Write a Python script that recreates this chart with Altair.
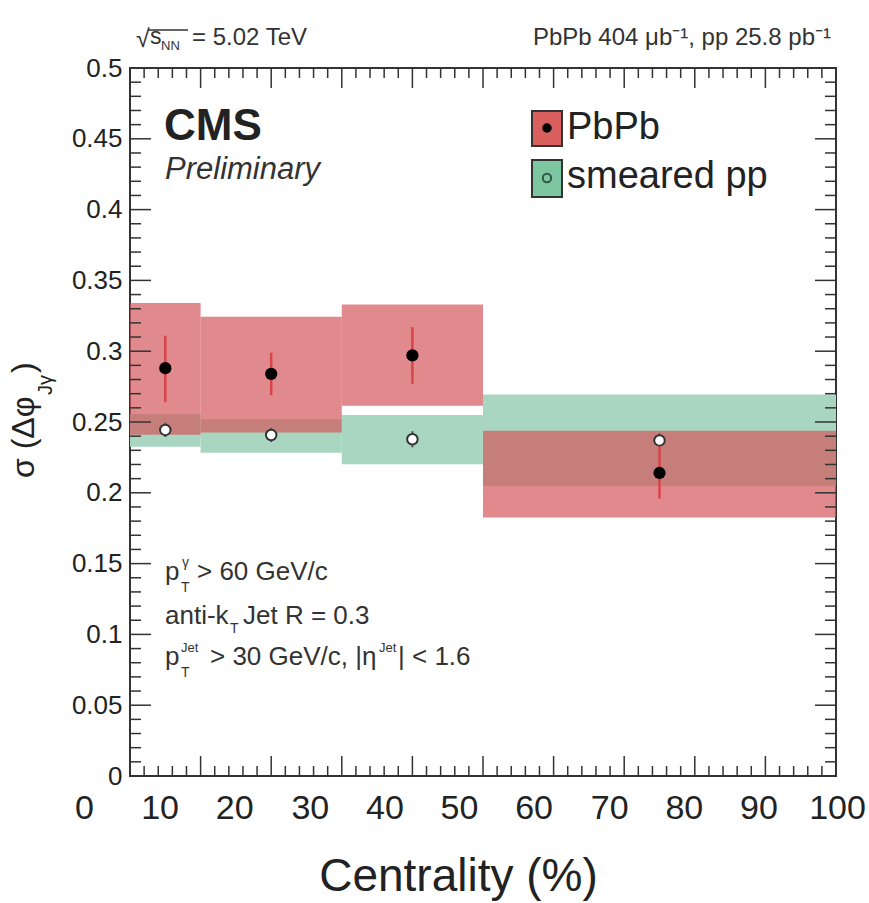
import altair as alt
import pandas as pd

# ---------------- data ----------------
cent_lo = [0, 10, 30, 50]
cent_hi = [10, 30, 50, 100]
cent_mid = [5, 20, 40, 75]

pbpb = [0.288, 0.284, 0.297, 0.214]
pbpb_stat_lo = [0.264, 0.269, 0.277, 0.196]
pbpb_stat_hi = [0.311, 0.299, 0.317, 0.233]
pbpb_sys_lo = [0.241, 0.2425, 0.2615, 0.1826]
pbpb_sys_hi = [0.334, 0.3244, 0.333, 0.2439]

pp = [0.2444, 0.2408, 0.2378, 0.2370]
pp_stat_lo = [0.2394, 0.2358, 0.2321, 0.2320]
pp_stat_hi = [0.2494, 0.2458, 0.2435, 0.2420]
pp_sys_lo = [0.2325, 0.2283, 0.2201, 0.2048]
pp_sys_hi = [0.2556, 0.2519, 0.2549, 0.2695]

# axis ticks
x_major = [0, 10, 20, 30, 40, 50, 60, 70, 80, 90, 100]
x_minor = [2, 4, 6, 8, 12, 14, 16, 18, 22, 24, 26, 28, 32, 34, 36, 38, 42, 44, 46, 48,
           52, 54, 56, 58, 62, 64, 66, 68, 72, 74, 76, 78, 82, 84, 86, 88, 92, 94, 96, 98]
y_major = [0, 0.05, 0.1, 0.15, 0.2, 0.25, 0.3, 0.35, 0.4, 0.45, 0.5]
y_minor = [0.01, 0.02, 0.03, 0.04, 0.06, 0.07, 0.08, 0.09, 0.11, 0.12, 0.13, 0.14,
           0.16, 0.17, 0.18, 0.19, 0.21, 0.22, 0.23, 0.24, 0.26, 0.27, 0.28, 0.29,
           0.31, 0.32, 0.33, 0.34, 0.36, 0.37, 0.38, 0.39, 0.41, 0.42, 0.43, 0.44,
           0.46, 0.47, 0.48, 0.49]
# label shifts seen in the reference (labels sit left of their ticks)
x_label_shift = [-46, -41, -37, -32, -28, -24, -20, -15, -11, -7, 1]

# ---------------- style ----------------
FONT = "Liberation Sans"
INK = "#222222"
TICK = "#333333"
RED_FILL = "#D3585C"
GREEN_FILL = "#A9D6C0"
RED_ERR = "#D9444B"
W, H = 706, 708
L0, T0 = 130, 68  # plot origin on the page

df = pd.DataFrame({
    "lo": cent_lo, "hi": cent_hi, "mid": cent_mid,
    "pbpb": pbpb, "pbpb_stat_lo": pbpb_stat_lo, "pbpb_stat_hi": pbpb_stat_hi,
    "pbpb_sys_lo": pbpb_sys_lo, "pbpb_sys_hi": pbpb_sys_hi,
    "pp": pp, "pp_stat_lo": pp_stat_lo, "pp_stat_hi": pp_stat_hi,
    "pp_sys_lo": pp_sys_lo, "pp_sys_hi": pp_sys_hi,
})

xs = alt.Scale(domain=[0, 100], nice=False, zero=False)
ys = alt.Scale(domain=[0, 0.5], nice=False, zero=False)

offset_cond = {
    "condition": [{"test": f"datum.value == {v}", "value": s}
                  for v, s in zip(x_major, x_label_shift)],
    "value": 0,
}

x_axis = alt.Axis(values=x_major, format="d", ticks=False, tickSize=0, domain=False,
                  grid=False, labelFont=FONT, labelFontSize=34, labelColor=INK,
                  labelPadding=15, labelFlush=False, labelOverlap=False,
                  labelOffset=offset_cond,
                  title="Centrality (%)", titleFont=FONT, titleFontSize=46,
                  titleFontWeight="normal", titleColor=INK, titleX=328, titleY=114,
                  titleBaseline="alphabetic")
y_axis = alt.Axis(values=y_major, format=".2~f", ticks=False, tickSize=0, domain=False,
                  grid=False, labelFont=FONT, labelFontSize=26, labelColor=INK,
                  labelPadding=8, labelFlush=False, labelOverlap=False, title=None)


def X(field):
    return alt.X(field, type="quantitative", scale=xs, axis=x_axis)


def Y(field):
    return alt.Y(field, type="quantitative", scale=ys, axis=y_axis)


base = alt.Chart(df)

green_box = base.mark_rect(color=GREEN_FILL, opacity=1).encode(
    x=X("lo"), x2="hi:Q", y=Y("pp_sys_lo"), y2="pp_sys_hi:Q")
red_box = base.mark_rect(color=RED_FILL, opacity=0.7).encode(
    x=X("lo"), x2="hi:Q", y=Y("pbpb_sys_lo"), y2="pbpb_sys_hi:Q")
pp_err = base.mark_rule(color="#555555", strokeWidth=2).encode(
    x=X("mid"), y=Y("pp_stat_lo"), y2="pp_stat_hi:Q")
pp_pts = base.mark_circle(fill="white", stroke="#333333", strokeWidth=2, size=110,
                          opacity=1, fillOpacity=1).encode(
    x=X("mid"), y=Y("pp"))
pb_err = base.mark_rule(color=RED_ERR, strokeWidth=2.5).encode(
    x=X("mid"), y=Y("pbpb_stat_lo"), y2="pbpb_stat_hi:Q")
pb_pts = base.mark_circle(color="black", size=150, opacity=1).encode(
    x=X("mid"), y=Y("pbpb"))


def yticks(vals, length, side):
    d = pd.DataFrame({"t": vals})
    if side == "left":
        xe = dict(x=alt.value(0), x2=alt.value(length))
    else:
        xe = dict(x=alt.value(W - length), x2=alt.value(W))
    return alt.Chart(d).mark_rule(color=TICK, strokeWidth=1.5).encode(y=Y("t"), **xe)


def xticks(vals, length, side):
    d = pd.DataFrame({"t": vals})
    if side == "bottom":
        ye = dict(y=alt.value(H), y2=alt.value(H - length))
    else:
        ye = dict(y=alt.value(0), y2=alt.value(length))
    return alt.Chart(d).mark_rule(color=TICK, strokeWidth=1.5).encode(x=X("t"), **ye)


tick_layers = [
    yticks(y_major, 21, "left"), yticks(y_minor, 11, "left"),
    yticks(y_major, 21, "right"), yticks(y_minor, 11, "right"),
    xticks(x_major, 20, "bottom"), xticks(x_minor, 10, "bottom"),
    xticks(x_major, 20, "top"), xticks(x_minor, 10, "top"),
]

one = pd.DataFrame({"k": [0]})


def txt(s, x, y, size, align="left", baseline="alphabetic", color=INK, **kw):
    return alt.Chart(one).mark_text(text=s, fontSize=size, font=FONT, align=align,
                                    baseline=baseline, color=color, **kw).encode(
        x=alt.value(x - L0), y=alt.value(y - T0))


def box(x0, x1, y0, y1, fill):
    return alt.Chart(one).mark_rect(fill=fill, stroke="#333333", strokeWidth=2,
                                    opacity=1).encode(
        x=alt.value(x0 - L0), x2=alt.value(x1 - L0),
        y=alt.value(y0 - T0), y2=alt.value(y1 - T0))


def dot(x, y, size, **kw):
    return alt.Chart(one).mark_circle(size=size, opacity=1, **kw).encode(
        x=alt.value(x - L0), y=alt.value(y - T0))


GREY = "#333333"
annotations = [
    # top labels
    txt("√", 136, 47, 25, color=GREY),
    alt.Chart(one).mark_rule(color=GREY, strokeWidth=1.5).encode(
        x=alt.value(148 - L0), x2=alt.value(188 - L0), y=alt.value(30 - T0)),
    txt("s", 150, 44, 23, color=GREY),
    txt("NN", 161, 50, 13, color=GREY),
    txt("= 5.02 TeV", 192, 45, 24, color=GREY),
    txt("PbPb 404 μb⁻¹, pp 25.8 pb⁻¹", 831, 45, 24, align="right", color=GREY),
    # CMS label
    txt("CMS", 164, 140, 44, fontWeight="bold"),
    txt("Preliminary", 165, 179, 31, fontStyle="italic", color=GREY),
    # legend
    box(532, 562, 111, 146, "#D9605F"),
    dot(547, 128, 90, color="black"),
    box(532, 562, 160, 197, "#7CC6A0"),
    dot(547, 178, 70, fill="#7CC6A0", stroke="#335544", strokeWidth=2),
    txt("PbPb", 567, 139, 38),
    txt("smeared pp", 567, 188, 38),
    # selection text
    txt("p", 165, 580, 26, color=GREY),
    txt("γ", 182, 567, 14, color=GREY),
    txt("T", 181, 592, 14, color=GREY),
    txt("> 60 GeV/c", 197, 580, 26, color=GREY),
    txt("anti-k", 165, 624, 26, color=GREY),
    txt("T", 230, 633, 14, color=GREY),
    txt("Jet R = 0.3", 243, 624, 26, color=GREY),
    txt("p", 165, 665, 26, color=GREY),
    txt("Jet", 181, 652, 13, color=GREY),
    txt("T", 181, 677, 14, color=GREY),
    txt("> 30 GeV/c, |η", 210, 665, 26, color=GREY),
    txt("Jet", 379, 652, 13, color=GREY),
    txt("| < 1.6", 398, 665, 26, color=GREY),
    # y title
    txt("σ (Δφ", 24, 478, 32, baseline="middle", angle=270),
    txt("Jγ", 46, 395, 20, baseline="middle", angle=270),
    txt(")", 24, 373, 32, baseline="middle", angle=270),
]

chart = alt.layer(
    green_box, red_box, pp_err, pp_pts, pb_err, pb_pts, *tick_layers, *annotations
).properties(
    width=W, height=H,
    autosize=alt.AutoSizeParams(type="none"),
    padding={"left": L0, "top": T0, "right": 869 - L0 - W, "bottom": 903 - T0 - H},
    background="white",
).configure_view(stroke="#333333", strokeWidth=2)

chart.save("out.html", embed_options={"renderer": "svg", "actions": False})
